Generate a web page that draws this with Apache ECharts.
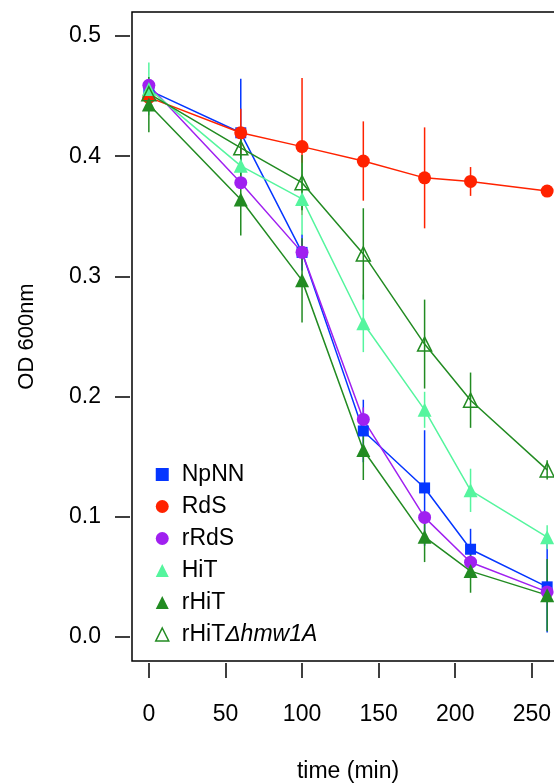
<!DOCTYPE html>
<html>
<head>
<meta charset="utf-8">
<script src="https://cdn.jsdelivr.net/npm/echarts@6/dist/echarts.min.js"></script>
<style>html,body{margin:0;padding:0;background:#fff;}#c{width:554px;height:784px;}</style>
</head>
<body>
<div id="c"></div>
<script>
const time = [0, 60, 100, 140, 180, 210, 260];
const NpNN = [0.455, 0.4195, 0.320, 0.1714, 0.124, 0.073, 0.0417];
const NpNN_err = [0.005, 0.045, 0.015, 0.026, 0.048, 0.017, 0.038];
const RdS = [0.449, 0.4195, 0.408, 0.396, 0.382, 0.379, 0.371];
const RdS_err = [0.005, 0.02, 0.057, 0.033, 0.042, 0.012, 0.004];
const rRdS = [0.459, 0.378, 0.320, 0.181, 0.0995, 0.0622, 0.0375];
const rRdS_err = [0.004, 0.005, 0.01, 0.01, 0.005, 0.005, 0.004];
const HiT = [0.456, 0.392, 0.3645, 0.261, 0.189, 0.122, 0.083];
const HiT_err = [0.022, 0.01, 0.03, 0.024, 0.015, 0.018, 0.01];
const rHiT = [0.443, 0.364, 0.2967, 0.1556, 0.0833, 0.0548, 0.0348];
const rHiT_err = [0.023, 0.03, 0.035, 0.025, 0.021, 0.018, 0.03];
const rHiTd = [0.452, 0.407, 0.378, 0.3187, 0.2437, 0.197, 0.139];
const rHiTd_err = [0.005, 0.012, 0.023, 0.038, 0.037, 0.023, 0.008];
const xTicks = [0, 50, 100, 150, 200, 250];
const yTicks = [0, 0.1, 0.2, 0.3, 0.4, 0.5];

const FONT = 'Liberation Sans';
const groups = [
  {name: 'NpNN', y: NpNN, e: NpNN_err, color: '#0536FF', symbol: 'rect', size: 11, open: false},
  {name: 'RdS', y: RdS, e: RdS_err, color: '#FF2200', symbol: 'circle', size: 13, open: false},
  {name: 'rRdS', y: rRdS, e: rRdS_err, color: '#A020F0', symbol: 'circle', size: 13, open: false},
  {name: 'HiT', y: HiT, e: HiT_err, color: '#55F59E', symbol: 'triangle', size: 14, open: false},
  {name: 'rHiT', y: rHiT, e: rHiT_err, color: '#228B22', symbol: 'triangle', size: 14, open: false},
  {name: 'rHiTΔhmw1A', y: rHiTd, e: rHiTd_err, color: '#228B22', symbol: 'triangle', size: 14, open: true}
];

const series = [];
groups.forEach(g => {
  series.push({
    name: g.name,
    type: 'custom',
    silent: true,
    z: 2,
    data: time.map((t, i) => [t, g.y[i], g.e[i]]),
    renderItem: function (params, api) {
      const x = api.value(0), y = api.value(1), e = api.value(2);
      const p1 = api.coord([x, y - e]);
      const p2 = api.coord([x, y + e]);
      return {
        type: 'line',
        shape: {x1: p1[0], y1: p1[1], x2: p2[0], y2: p2[1]},
        style: {stroke: g.color, lineWidth: 1.5}
      };
    }
  });
  series.push({
    name: g.name,
    type: 'line',
    z: 3,
    data: time.map((t, i) => [t, g.y[i]]),
    symbol: g.symbol,
    symbolSize: g.size,
    showAllSymbol: true,
    lineStyle: {color: g.color, width: 1.5},
    itemStyle: g.open ? {color: 'rgba(255,255,255,0)', borderColor: g.color, borderWidth: 1.5} : {color: g.color, borderWidth: 0},
    emphasis: {disabled: true}
  });
});

const chart = echarts.init(document.getElementById('c'), null, {renderer: 'canvas'});
chart.setOption({
  animation: false,
  backgroundColor: '#fff',
  grid: {left: 132, top: 12, width: 432, height: 649, show: true, borderColor: '#000', borderWidth: 1.5,
    backgroundColor: 'transparent', outerBoundsMode: 'none', containLabel: false},
  legend: {
    orient: 'vertical',
    left: 150,
    top: 458,
    itemWidth: 13,
    itemHeight: 13,
    itemGap: 9,
    selectedMode: false,
    textStyle: {fontFamily: FONT, fontSize: 23, color: '#000', lineHeight: 23, padding: [0, 0, 0, 8],
      rich: {i: {fontFamily: FONT, fontSize: 23, fontStyle: 'italic', color: '#000'}}},
    formatter: function (name) {
      if (name === 'rHiTΔhmw1A') return 'rHiT{i|Δhmw1A}';
      return name;
    },
    data: groups.map(g => ({
      name: g.name,
      icon: g.symbol,
      itemStyle: g.open ? {color: 'rgba(255,255,255,0)', borderColor: g.color, borderWidth: 1.5} : {color: g.color, borderWidth: 0}
    }))
  },
  xAxis: {
    type: 'value',
    min: -11,
    max: 271,
    offset: 2,
    name: 'time (min)',
    nameLocation: 'middle',
    nameGap: 97,
    nameTextStyle: {fontFamily: FONT, fontSize: 23, color: '#000'},
    axisLine: {show: false, onZero: false},
    splitLine: {show: false},
    axisTick: {show: true, inside: false, length: 15, customValues: xTicks, lineStyle: {color: '#000', width: 1.5}},
    axisLabel: {customValues: xTicks, fontFamily: FONT, fontSize: 23, color: '#000', margin: 40}
  },
  yAxis: {
    type: 'value',
    min: -0.02,
    max: 0.52,
    offset: 2,
    name: 'OD 600nm',
    nameLocation: 'middle',
    nameGap: 92,
    nameRotate: 90,
    nameTextStyle: {fontFamily: FONT, fontSize: 22, color: '#000'},
    axisLine: {show: false, onZero: false},
    splitLine: {show: false},
    axisTick: {show: true, inside: false, length: 15, customValues: yTicks, lineStyle: {color: '#000', width: 1.5}},
    axisLabel: {customValues: yTicks, fontFamily: FONT, fontSize: 23, color: '#000', margin: 29,
      formatter: v => Number(v).toFixed(1)}
  },
  series: series
});
</script>
</body>
</html>
